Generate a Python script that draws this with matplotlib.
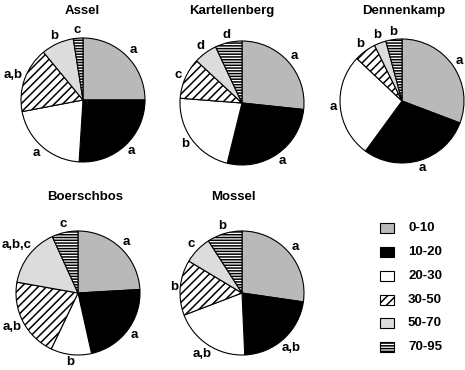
import matplotlib
matplotlib.use("Agg")
import matplotlib.pyplot as plt
from matplotlib.patches import Rectangle
import numpy as np

plt.rcParams['font.family'] = ['Liberation Sans', 'DejaVu Sans']
plt.rcParams['font.weight'] = 'bold'
plt.rcParams['hatch.linewidth'] = 1.1

# size classes (legend) and site data, percent of stems per class
classes = ['0-10', '10-20', '20-30', '30-50', '50-70', '70-95']
sites = ['Assel', 'Kartellenberg', 'Dennenkamp', 'Boerschbos', 'Mossel']

assel = [25.0, 26.0, 21.0, 17.0, 8.5, 2.5]
kartellenberg = [26.7, 27.2, 22.4, 10.7, 6.1, 7.0]
dennenkamp = [30.8, 29.3, 27.0, 5.7, 3.1, 4.2]
boerschbos = [24.1, 22.4, 10.6, 20.7, 15.4, 6.8]
mossel = [27.3, 22.0, 19.9, 14.4, 7.3, 9.1]

# significance letters per slice
assel_lbl = ['a', 'a', 'a', 'a,b', 'b', 'c']
kartellenberg_lbl = ['a', 'a', 'b', 'c', 'd', 'd']
dennenkamp_lbl = ['a', 'a', 'a', 'b', 'b', 'b']
boerschbos_lbl = ['a', 'a', 'b', 'a,b', 'a,b,c', 'c']
mossel_lbl = ['a', 'a,b', 'a,b', 'b', 'c', 'b']

values = [assel, kartellenberg, dennenkamp, boerschbos, mossel]
letters = [assel_lbl, kartellenberg_lbl, dennenkamp_lbl, boerschbos_lbl, mossel_lbl]

colors = ['#b9b9b9', '#000000', '#ffffff', '#ffffff', '#dcdcdc', '#ffffff']
hatches = [None, None, None, '////', None, '------']

W, H = 465, 370
fig = plt.figure(figsize=(W / 100, H / 100), dpi=100)

# pie centres and title positions in pixels
centres = [(83, 100), (242, 103), (402, 101), (78, 293), (242, 293)]
titles = [(82, 11), (232, 11), (404, 11), (85, 197), (233, 197)]
R = 62
half = 80

for i, site in enumerate(sites):
    cx, cy = centres[i]
    ax = fig.add_axes([(cx - half) / W, (H - cy - half) / H, 2 * half / W, 2 * half / H])
    wedges, _ = ax.pie(values[i], colors=colors, startangle=90, counterclock=False,
                       wedgeprops=dict(edgecolor='black', linewidth=0.8))
    for w, h in zip(wedges, hatches):
        if h:
            w.set_hatch(h)
    # letters just outside each slice, pushed out by their own size
    for w, lab in zip(wedges, letters[i]):
        ang = np.deg2rad((w.theta1 + w.theta2) / 2)
        ux, uy = np.cos(ang), np.sin(ang)
        hw = (6.2 * sum(ch.isalpha() for ch in lab) + 3 * lab.count(',')) / 2 / R
        hh = 4.5 / R
        r = 1.05 + hw * abs(ux) + hh * abs(uy)
        ax.text(r * ux, r * uy, lab, ha='center', va='center', fontsize=9.5,
                fontweight='bold', clip_on=False)
    lim = half / R
    ax.set_xlim(-lim, lim)
    ax.set_ylim(-lim, lim)
    ax.set_aspect('equal')
    ax.axis('off')
    tx, ty = titles[i]
    fig.text(tx / W, 1 - ty / H, site, ha='center', va='center', fontsize=9.5, fontweight='bold')

# legend
lax = fig.add_axes([0, 0, 1, 1])
lax.set_xlim(0, W)
lax.set_ylim(H, 0)
lax.axis('off')
rows = [228, 252, 276, 300, 323, 347]
for c, h, lab, y in zip(colors, hatches, classes, rows):
    lax.add_patch(Rectangle((380, y - 5), 14, 10, facecolor=c, edgecolor='black',
                            linewidth=0.8, hatch=h))
    lax.text(408, y, lab, ha='left', va='center', fontsize=9.5, fontweight='bold')

fig.savefig('out.png', dpi=100)
